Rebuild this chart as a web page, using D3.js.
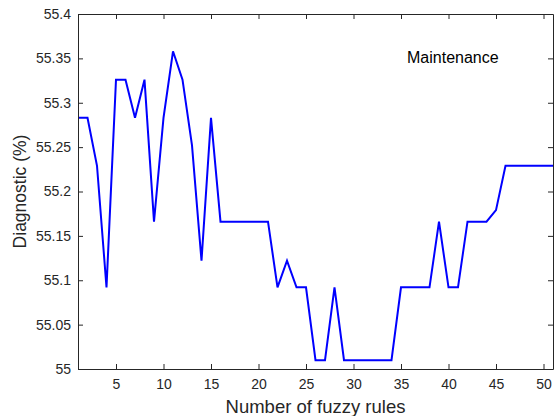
<!DOCTYPE html>
<html>
<head>
<meta charset="utf-8">
<script src="https://cdn.jsdelivr.net/npm/d3@7"></script>
<style>
  body { margin: 0; background: #fff; }
  svg { display: block; font-family: "Liberation Sans", Arial, sans-serif; }
</style>
</head>
<body>
<svg id="chart"></svg>
<script>
// number of fuzzy rules (x) and diagnostic rate (y)
const rules = d3.range(1, 52);
const diagnostic = [
  55.283, 55.283, 55.229, 55.092, 55.326, 55.326, 55.283, 55.326, 55.166, 55.283,
  55.358, 55.326, 55.252, 55.122, 55.283, 55.166, 55.166, 55.166, 55.166, 55.166,
  55.166, 55.092, 55.122, 55.092, 55.092, 55.010, 55.010, 55.092, 55.010, 55.010,
  55.010, 55.010, 55.010, 55.010, 55.092, 55.092, 55.092, 55.092, 55.166, 55.092,
  55.092, 55.166, 55.166, 55.166, 55.179, 55.229, 55.229, 55.229, 55.229, 55.229,
  55.229
];
const xTicks = [5, 10, 15, 20, 25, 30, 35, 40, 45, 50];
const yTicks = [55, 55.05, 55.1, 55.15, 55.2, 55.25, 55.3, 55.35, 55.4];

const width = 555, height = 416;
const margin = {top: 14, right: 2, bottom: 47, left: 78};
const innerW = width - margin.left - margin.right;
const innerH = height - margin.top - margin.bottom;
const axisColor = '#262626';

const svg = d3.select('#chart')
  .attr('width', width)
  .attr('height', height);

const chart = svg.append('g')
  .attr('transform', `translate(${margin.left}, ${margin.top})`);

const xscale = d3.scaleLinear().domain([1, 51]).range([0, innerW]);
const yscale = d3.scaleLinear().domain([55, 55.4]).range([innerH, 0]);

// axes, ticks pointing inward like the original
const xaxis = d3.axisBottom(xscale).tickValues(xTicks)
  .tickSizeInner(-5).tickSizeOuter(0).tickPadding(10).tickFormat(d3.format('d'));
const yaxis = d3.axisLeft(yscale).tickValues(yTicks)
  .tickSizeInner(-5).tickSizeOuter(0).tickPadding(7).tickFormat(d => +d.toFixed(2));
const xtop = d3.axisTop(xscale).tickValues(xTicks)
  .tickSizeInner(-5).tickSizeOuter(0).tickFormat('');
const yright = d3.axisRight(yscale).tickValues(yTicks)
  .tickSizeInner(-5).tickSizeOuter(0).tickFormat('');

const line = d3.line()
  .x((d, i) => xscale(rules[i]))
  .y(d => yscale(d));

chart.append('path')
  .attr('d', line(diagnostic))
  .attr('fill', 'none')
  .attr('stroke', '#0000ff')
  .attr('stroke-width', 2)
  .attr('stroke-linejoin', 'miter');

const groups = [
  chart.append('g').attr('transform', `translate(0, ${innerH})`).call(xaxis),
  chart.append('g').call(yaxis),
  chart.append('g').call(xtop),
  chart.append('g').attr('transform', `translate(${innerW}, 0)`).call(yright)
];
groups.forEach(g => {
  g.select('.domain').attr('stroke', axisColor);
  g.selectAll('.tick line').attr('stroke', axisColor);
  g.selectAll('.tick text')
    .attr('fill', axisColor)
    .style('font-size', '14px')
    .style('font-family', '"Liberation Sans", Arial, sans-serif');
});

// labels
svg.append('text')
  .attr('x', margin.left + innerW / 2)
  .attr('y', 413)
  .attr('text-anchor', 'middle')
  .attr('fill', axisColor)
  .style('font-size', '18.5px')
  .text('Number of fuzzy rules');

svg.append('text')
  .attr('transform', `translate(26, ${margin.top + innerH / 2}) rotate(-90)`)
  .attr('text-anchor', 'middle')
  .attr('fill', axisColor)
  .style('font-size', '17.5px')
  .text('Diagnostic (%)');

svg.append('text')
  .attr('x', 407)
  .attr('y', 63)
  .attr('fill', '#000')
  .style('font-size', '16px')
  .text('Maintenance');
</script>
</body>
</html>
